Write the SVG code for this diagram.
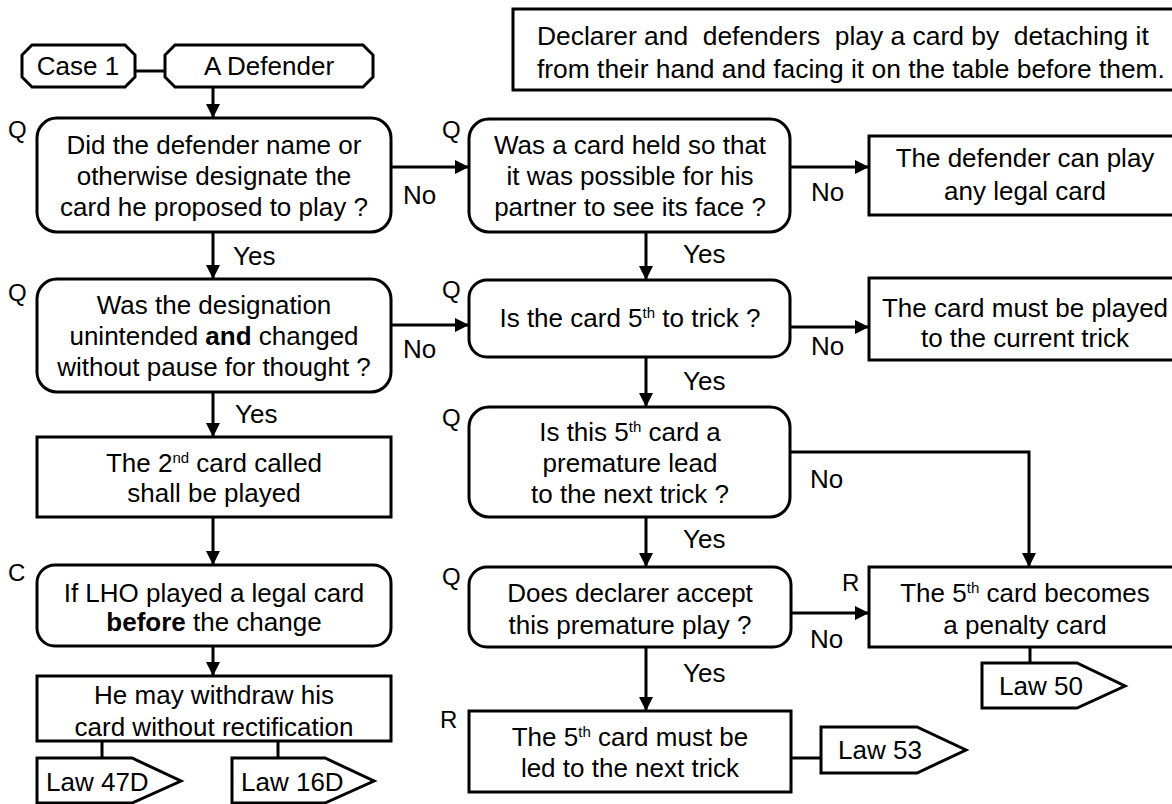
<svg xmlns="http://www.w3.org/2000/svg" width="1172" height="804" viewBox="0 0 1172 804">
<defs>
<style>
.b{fill:#fff;stroke:#000;stroke-width:3}
.c{fill:none;stroke:#000;stroke-width:3}
text{font-family:"Liberation Sans",Arial,sans-serif;font-size:26px;fill:#000}
.m{text-anchor:middle}
.l{font-size:24px}
.n{font-size:26.4px}
.sup{font-size:15px}
</style>
<marker id="ah" markerWidth="14" markerHeight="14" refX="14" refY="7" orient="auto" markerUnits="userSpaceOnUse">
<path d="M0,0 L14,7 L0,14 z" fill="#000"/>
</marker>
</defs>
<rect width="1172" height="804" fill="#fff"/>

<g id="connectors">
<path class="c" d="M135,71 H165"/>
<path class="c" d="M213,87 V118" marker-end="url(#ah)"/>
<path class="c" d="M391,167 H469" marker-end="url(#ah)"/>
<path class="c" d="M790,167 H869" marker-end="url(#ah)"/>
<path class="c" d="M213,232 V279" marker-end="url(#ah)"/>
<path class="c" d="M646,232 V280" marker-end="url(#ah)"/>
<path class="c" d="M391,325 H469" marker-end="url(#ah)"/>
<path class="c" d="M791,327 H869" marker-end="url(#ah)"/>
<path class="c" d="M213,392 V437" marker-end="url(#ah)"/>
<path class="c" d="M646,357 V407" marker-end="url(#ah)"/>
<path class="c" d="M213,517 V565" marker-end="url(#ah)"/>
<path class="c" d="M646,517 V567" marker-end="url(#ah)"/>
<path class="c" d="M791,452 H1029 V567" marker-end="url(#ah)"/>
<path class="c" d="M791,613 H869" marker-end="url(#ah)"/>
<path class="c" d="M646,647 V711" marker-end="url(#ah)"/>
<path class="c" d="M213,646 V676" marker-end="url(#ah)"/>
<path class="c" d="M102,741 V758"/>
<path class="c" d="M278,741 V758"/>
<path class="c" d="M1030,647 V663"/>
<path class="c" d="M791,758 H821"/>
<text x="233" y="265">Yes</text>
<text x="403" y="204">No</text>
<text x="683" y="263">Yes</text>
<text x="811" y="201">No</text>
<text x="403" y="358">No</text>
<text x="235" y="423">Yes</text>
<text x="811" y="355">No</text>
<text x="683" y="390">Yes</text>
<text x="810" y="488">No</text>
<text x="683" y="548">Yes</text>
<text x="683" y="682">Yes</text>
<text x="810" y="648">No</text>
</g>

<g id="note">
<rect class="b" x="513" y="9" width="670" height="81"/>
<text class="n" x="537" y="45" xml:space="preserve">Declarer and  defenders  play a card by  detaching it</text>
<text class="n" x="537" y="78">from their hand and facing it on the table before them.</text>
</g>

<g id="case1">
<polygon class="b" points="32,45 125,45 135,55 135,77 125,87 32,87 22,77 22,55"/>
<text class="m" x="78" y="75">Case 1</text>
</g>
<g id="defender">
<polygon class="b" points="175,45 363,45 373,55 373,77 363,87 175,87 165,77 165,55"/>
<text class="m" x="269" y="75">A Defender</text>
</g>

<g id="q1">
<text class="l" x="8" y="138">Q</text>
<rect class="b" x="37" y="118" width="354" height="114" rx="20"/>
<text class="m" x="214" y="154">Did the defender name or</text>
<text class="m" x="214" y="185">otherwise designate the</text>
<text class="m" x="214" y="216">card he proposed to play ?</text>
</g>

<g id="q2">
<text class="l" x="442" y="138">Q</text>
<rect class="b" x="469" y="119" width="321" height="113" rx="20"/>
<text class="m" x="630" y="154">Was a card held so that</text>
<text class="m" x="630" y="185">it was possible for his</text>
<text class="m" x="630" y="216">partner to see its face ?</text>
</g>

<g id="anylegal">
<rect class="b" x="869" y="136" width="312" height="79"/>
<text class="m" x="1025" y="167">The defender can play</text>
<text class="m" x="1025" y="200">any legal card</text>
</g>

<g id="q3">
<text class="l" x="8" y="301">Q</text>
<rect class="b" x="37" y="279" width="354" height="113" rx="20"/>
<text class="m" x="214" y="314">Was the designation</text>
<text class="m" x="214" y="345">unintended <tspan font-weight="bold">and</tspan> changed</text>
<text class="m" x="214" y="376">without pause for thought ?</text>
</g>

<g id="q4">
<text class="l" x="442" y="298">Q</text>
<rect class="b" x="469" y="280" width="321" height="77" rx="18"/>
<text class="m" x="630" y="327">Is the card 5<tspan class="sup" dy="-9">th</tspan><tspan dy="9"> to trick ?</tspan></text>
</g>

<g id="currenttrick">
<rect class="b" x="869" y="278" width="312" height="82"/>
<text class="m" x="1025" y="317">The card must be played</text>
<text class="m" x="1025" y="347">to the current trick</text>
</g>

<g id="secondcard">
<rect class="b" x="37" y="437" width="354" height="80"/>
<text class="m" x="214" y="472">The 2<tspan class="sup" dy="-9">nd</tspan><tspan dy="9"> card called</tspan></text>
<text class="m" x="214" y="502">shall be played</text>
</g>

<g id="q5">
<text class="l" x="442" y="426">Q</text>
<rect class="b" x="469" y="407" width="321" height="110" rx="20"/>
<text class="m" x="630" y="441">Is this 5<tspan class="sup" dy="-9">th</tspan><tspan dy="9"> card a</tspan></text>
<text class="m" x="630" y="472">premature lead</text>
<text class="m" x="630" y="503">to the next trick ?</text>
</g>

<g id="c1">
<text class="l" x="8" y="581">C</text>
<rect class="b" x="37" y="565" width="354" height="81" rx="18"/>
<text class="m" x="214" y="602">If LHO played a legal card</text>
<text class="m" x="214" y="631"><tspan font-weight="bold">before</tspan> the change</text>
</g>

<g id="q6">
<text class="l" x="442" y="585">Q</text>
<rect class="b" x="469" y="567" width="322" height="80" rx="18"/>
<text class="m" x="630" y="602">Does declarer accept</text>
<text class="m" x="630" y="634">this premature play ?</text>
</g>

<g id="penalty">
<text class="l" x="842" y="591">R</text>
<rect class="b" x="869" y="567" width="312" height="80"/>
<text class="m" x="1025" y="602">The 5<tspan class="sup" dy="-9">th</tspan><tspan dy="9"> card becomes</tspan></text>
<text class="m" x="1025" y="634">a penalty card</text>
</g>

<g id="withdraw">
<rect class="b" x="37" y="676" width="354" height="65"/>
<text class="m" x="214" y="704">He may withdraw his</text>
<text class="m" x="214" y="736">card without rectification</text>
</g>

<g id="ledtonext">
<text class="l" x="440" y="728">R</text>
<rect class="b" x="469" y="711" width="322" height="81"/>
<text class="m" x="630" y="746">The 5<tspan class="sup" dy="-9">th</tspan><tspan dy="9"> card must be</tspan></text>
<text class="m" x="630" y="777">led to the next trick</text>
</g>

<g id="law47d">
<polygon class="b" points="37,758 132,758 181,781 132,803 37,803"/>
<text x="46" y="791">Law 47D</text>
</g>
<g id="law16d">
<polygon class="b" points="232,758 325,758 374,781 325,803 232,803"/>
<text x="241" y="791">Law 16D</text>
</g>
<g id="law50">
<polygon class="b" points="982,663 1077,663 1125,686 1077,708 982,708"/>
<text x="999" y="695">Law 50</text>
</g>
<g id="law53">
<polygon class="b" points="821,727 917,727 966,750 917,773 821,773"/>
<text x="838" y="759">Law 53</text>
</g>
</svg>
